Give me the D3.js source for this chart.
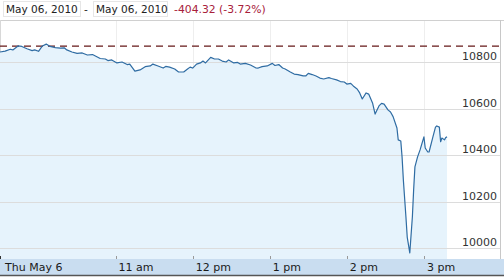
<!DOCTYPE html>
<html>
<head>
<meta charset="utf-8">
<script src="https://cdn.jsdelivr.net/npm/d3@7"></script>
<style>
  body { margin: 0; background: #fff; }
  svg { display: block; font-family: "DejaVu Sans", Verdana, sans-serif; }
</style>
</head>
<body>
<svg id="chart" width="504" height="277"></svg>
<script>
// intraday Dow values, May 6 2010
const times = ["9:30","9:34","9:38","9:40","9:44","9:47","9:51","9:55","9:57","10:00",
  "10:03","10:06","10:09","10:13","10:17","10:20","10:22","10:26","10:30","10:34",
  "10:38","10:42","10:45","10:48","10:52","10:54","10:57","11:01","11:05","11:09",
  "11:11","11:15","11:19","11:23","11:27","11:29","11:33","11:37","11:39","11:42",
  "11:46","11:49","11:53","11:56","11:58","12:00","12:03","12:06","12:08","12:10",
  "12:14","12:17","12:20","12:23","12:26","12:28","12:32","12:35","12:37","12:41",
  "12:45","12:49","12:51","12:54","12:58","13:02","13:04","13:07","13:10","13:12",
  "13:16","13:19","13:22","13:26","13:28","13:30","13:33","13:36","13:39","13:42",
  "13:46","13:48","13:52","13:55","13:58","14:00","14:03","14:05","14:08","14:10",
  "14:12","14:15","14:17","14:20","14:22","14:25","14:27","14:29","14:32","14:34",
  "14:36","14:39","14:40","14:42","14:43","14:44","14:46","14:47","14:49","14:51",
  "14:52","14:53","14:55","14:57","15:00","15:01","15:03","15:04","15:07","15:09",
  "15:10","15:12","15:13","15:14","15:16","15:17","15:18"];
const values = [10843,10847,10855,10852,10869,10867,10857,10849,10852,10846,
  10869,10877,10867,10862,10860,10861,10852,10843,10837,10839,
  10830,10832,10824,10815,10813,10806,10809,10796,10800,10789,
  10791,10761,10766,10780,10783,10791,10783,10774,10781,10778,
  10770,10757,10757,10770,10778,10774,10791,10796,10804,10796,
  10820,10813,10813,10804,10800,10809,10796,10798,10791,10794,
  10787,10775,10774,10780,10783,10794,10785,10789,10774,10770,
  10757,10748,10746,10740,10740,10751,10746,10740,10731,10727,
  10733,10729,10723,10716,10714,10705,10708,10697,10684,10667,
  10641,10667,10662,10624,10576,10611,10622,10619,10594,10585,
  10565,10516,10465,10460,10391,10292,10133,10047,9979,10133,
  10250,10349,10391,10422,10478,10430,10413,10413,10478,10520,
  10525,10520,10457,10473,10465,10475,10478];
const prevClose = 10868.12;
const yTicks = [10000, 10200, 10400, 10600, 10800];
const xTickTimes = ["9:30", "11:00", "12:00", "13:00", "14:00", "15:00"];
const xTickLabels = ["Thu May 6", "11 am", "12 pm", "1 pm", "2 pm", "3 pm"];

const parse = t => {
  const [h, m] = t.split(":").map(Number);
  return new Date(2010, 4, 6, h, m);
};
const data = times.map((t, i) => ({ t: parse(t), v: values[i] }));

const svg = d3.select("#chart");
const plotTop = 21, plotBottom = 259, plotLeft = 0, plotRight = 500;

const x = d3.scaleTime()
  .domain([parse("9:30"), parse("16:00")])
  .range([0, 501]);
const y = d3.scaleLinear()
  .domain([10000, 10800])
  .range([248, 62]);

// header
const head = svg.append("g").style("font-size", "10.5px");
head.append("rect").attr("x", 3.5).attr("y", 1.5).attr("width", 77).attr("height", 15)
  .attr("fill", "#fff").attr("stroke", "#e6e6e6");
head.append("rect").attr("x", 93.5).attr("y", 1.5).attr("width", 74).attr("height", 15)
  .attr("fill", "#fff").attr("stroke", "#e6e6e6");
head.append("text").attr("x", 6).attr("y", 13).attr("fill", "#222").text("May 06, 2010");
head.append("text").attr("x", 84).attr("y", 13).attr("fill", "#222").text("-");
head.append("text").attr("x", 96).attr("y", 13).attr("fill", "#222").text("May 06, 2010");
head.append("text").attr("x", 174).attr("y", 13).attr("fill", "#a8203a")
  .style("font-size", "10.8px")
  .text("-404.32 (-3.72%)");

// frame
svg.append("line").attr("x1", 0).attr("x2", 504).attr("y1", 20.5).attr("y2", 20.5)
  .attr("stroke", "#d0d0d0");
svg.append("line").attr("x1", 500.5).attr("x2", 500.5).attr("y1", 20).attr("y2", 259)
  .attr("stroke", "#c8c8c8");
svg.append("line").attr("x1", 0.5).attr("x2", 0.5).attr("y1", 20).attr("y2", 259)
  .attr("stroke", "#d8d8d8");

// vertical grid
svg.append("g").selectAll("line")
  .data(xTickTimes.slice(1))
  .enter().append("line")
    .attr("x1", d => Math.round(x(parse(d))) + 0.5)
    .attr("x2", d => Math.round(x(parse(d))) + 0.5)
    .attr("y1", plotTop).attr("y2", plotBottom)
    .attr("stroke", "#eeeeee");

// area fill under the line
const area = d3.area()
  .x(d => x(d.t))
  .y0(plotBottom)
  .y1(d => y(d.v));
svg.append("path").datum(data)
  .attr("d", area)
  .attr("fill", "#e6f3fc");

// horizontal grid
svg.append("g").selectAll("line")
  .data(yTicks)
  .enter().append("line")
    .attr("x1", plotLeft).attr("x2", plotRight)
    .attr("y1", d => Math.round(y(d)) + 0.5)
    .attr("y2", d => Math.round(y(d)) + 0.5)
    .attr("stroke", "#dcdcdc");

// y labels
svg.append("g")
  .attr("text-anchor", "end")
  .style("font-size", "11px")
  .selectAll("text")
    .data(yTicks)
  .enter().append("text")
    .attr("x", 497)
    .attr("y", d => Math.round(y(d)) - 2)
    .attr("fill", "#333")
    .text(d => d);

// previous close
svg.append("line")
  .attr("x1", 0).attr("x2", plotRight)
  .attr("y1", y(prevClose)).attr("y2", y(prevClose))
  .attr("stroke", "#661818")
  .attr("stroke-width", 1.3)
  .attr("stroke-dasharray", "7,5");

// price line
const line = d3.line()
  .x(d => x(d.t))
  .y(d => y(d.v));
svg.append("path").datum(data)
  .attr("d", line)
  .attr("fill", "none")
  .attr("stroke", "#2f6ca3")
  .attr("stroke-width", 1.2)
  .attr("stroke-linejoin", "round");

// x axis band
svg.append("rect").attr("x", 0).attr("y", plotBottom).attr("width", 504).attr("height", 16)
  .attr("fill", "#c9ddf0");
svg.append("line").attr("x1", 0).attr("x2", 504).attr("y1", 275.5).attr("y2", 275.5)
  .attr("stroke", "#555").attr("stroke-width", 1.5);

const xa = svg.append("g").style("font-size", "11px");
xa.selectAll("line")
  .data(xTickTimes)
  .enter().append("line")
    .attr("x1", d => Math.round(x(parse(d))) + 0.5)
    .attr("x2", d => Math.round(x(parse(d))) + 0.5)
    .attr("y1", plotBottom - 3).attr("y2", plotBottom)
    .attr("stroke", (d, i) => i === 0 ? "#333" : "#999");
xa.selectAll("text")
  .data(xTickTimes)
  .enter().append("text")
    .attr("x", (d, i) => i === 0 ? 5 : x(parse(d)) + 3)
    .attr("y", 271)
    .attr("fill", "#1a1a1a")
    .text((d, i) => xTickLabels[i]);
</script>
</body>
</html>
